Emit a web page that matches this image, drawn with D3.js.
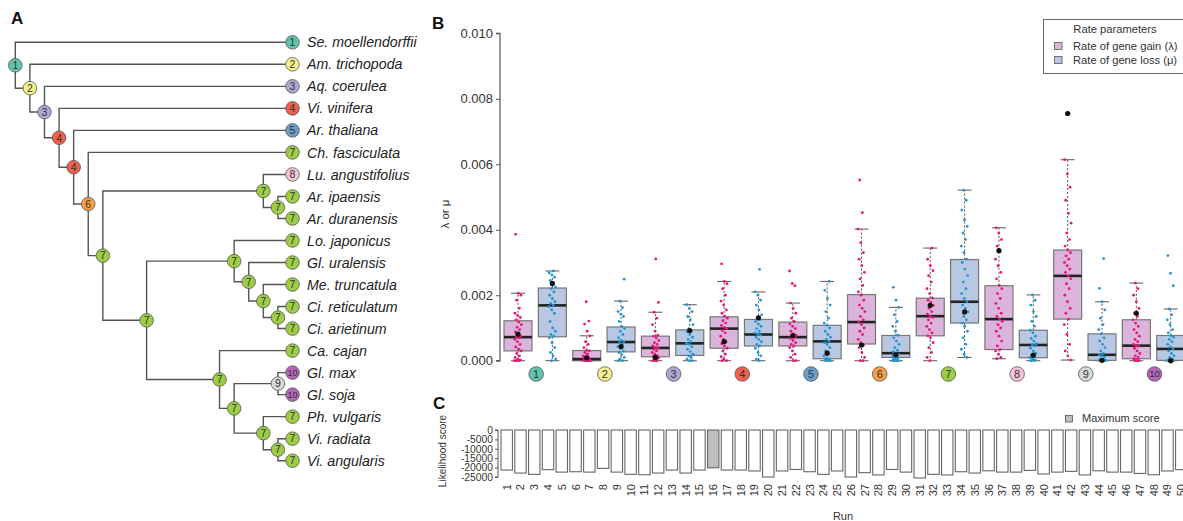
<!DOCTYPE html>
<html><head><meta charset="utf-8">
<script src="https://cdn.jsdelivr.net/npm/d3@7"></script>
<style>
body{margin:0;background:#fff;}
svg{display:block;font-family:"Liberation Sans",Arial,sans-serif;}
</style></head>
<body>
<svg id="fig" width="1183" height="521"></svg>
<script>
// ---------------- DATA ----------------
// Panel A: tree (x = node depth level, s = rate category, n = tip name)
const T = (n,s) => ({n, s});
const N = (s,x,c) => ({s, x, c});
const luAr = N(7,17,[T("Lu. angustifolius",8), N(7,18,[T("Ar. ipaensis",7), T("Ar. duranensis",7)])]);
const loClade = N(7,15,[T("Lo. japonicus",7), N(7,16,[T("Gl. uralensis",7), N(7,17,[T("Me. truncatula",7), N(7,18,[T("Ci. reticulatum",7), T("Ci. arietinum",7)])])])]);
const caClade = N(7,14,[T("Ca. cajan",7), N(7,15,[N(9,18,[T("Gl. max",10), T("Gl. soja",10)]), N(7,17,[T("Ph. vulgaris",7), N(7,18,[T("Vi. radiata",7), T("Vi. angularis",7)])])])]);
const tree = N(1,0,[T("Se. moellendorffii",1), N(2,1,[T("Am. trichopoda",2), N(3,2,[T("Aq. coerulea",3), N(4,3,[T("Vi. vinifera",4), N(4,4,[T("Ar. thaliana",5), N(6,5,[T("Ch. fasciculata",7), N(7,6,[luAr, N(7,9,[loClade, caClade])])])])])])])]);
const tipLevel = 19;

const categories = [1,2,3,4,5,6,7,8,9,10];
const categoryColors = ["#5fc3ad","#f4f08e","#b0a8d4","#f0604f","#6a9fca","#f5a046","#9ccd45","#f5c4d8","#d9d9d9","#b266b8"];

// Panel B: box statistics (units of 1e-3): [lower whisker, Q1, median, Q3, upper whisker]
const gainStats = [
  [0,0.30,0.72,1.22,2.06],[0,0,0.05,0.31,0.76],[0,0.12,0.39,0.75,1.48],[0,0.38,0.98,1.34,2.42],[0,0.45,0.72,1.18,1.76],
  [0,0.51,1.18,2.02,4.02],[0,0.76,1.36,1.91,3.44],[0.06,0.34,1.27,2.29,4.06],[0.02,1.27,2.59,3.38,6.14],[0,0.06,0.46,1.25,2.37]];
const lossStats = [
  [0,0.73,1.69,2.22,2.74],[0,0.27,0.57,1.03,1.82],[0,0.16,0.53,0.94,1.71],[0,0.45,0.80,1.26,2.10],[0,0.06,0.59,1.08,2.42],
  [0,0.10,0.23,0.77,1.63],[0.10,1.15,1.80,3.09,5.21],[0,0.09,0.48,0.93,2.01],[0,0.01,0.18,0.82,1.80],[0,0.01,0.36,0.77,1.58]];
// estimates from the maximum-score run (black dots), units of 1e-3
const gainBest = [0.81,0.09,0.10,0.58,0.77,0.48,1.69,3.36,7.55,1.45];
const lossBest = [2.36,0.43,0.92,1.31,0.23,0.18,1.49,0.17,0.01,0.00];
// per-run estimates (units of 1e-3)
const gainRuns = [
  [0,0,0,0.02,0.05,0.1,0.15,0.22,0.3,0.35,0.42,0.5,0.58,0.65,0.7,0.72,0.75,0.8,0.88,0.95,1.02,1.1,1.18,1.25,1.32,1.38,1.45,1.6,1.85,2.0,2.06,3.86],
  [0,0,0,0,0,0,0,0.01,0.02,0.03,0.05,0.06,0.08,0.1,0.12,0.15,0.2,0.25,0.3,0.32,0.4,0.5,0.58,0.76,0.9,1.12,1.21,1.8],
  [0,0,0,0.05,0.08,0.1,0.12,0.15,0.2,0.25,0.3,0.35,0.38,0.4,0.45,0.5,0.55,0.62,0.7,0.75,0.78,0.9,1.1,1.3,1.48,1.78,3.11],
  [0,0,0.05,0.12,0.2,0.3,0.38,0.45,0.52,0.58,0.65,0.75,0.85,0.92,0.98,1.02,1.08,1.15,1.22,1.3,1.36,1.45,1.55,1.7,1.82,2.0,2.2,2.35,2.42,2.96],
  [0,0,0.1,0.2,0.3,0.4,0.45,0.5,0.55,0.62,0.68,0.72,0.75,0.77,0.82,0.9,0.98,1.05,1.12,1.2,1.3,1.45,1.6,1.76,2.29,2.36,2.74],
  [0,0,0.1,0.25,0.4,0.48,0.55,0.65,0.8,0.9,1.0,1.1,1.18,1.25,1.35,1.5,1.6,1.7,1.85,2.0,2.1,2.3,2.5,2.7,2.9,3.1,3.3,3.6,4.02,4.52,5.52],
  [0,0.1,0.25,0.4,0.55,0.7,0.76,0.85,0.95,1.05,1.15,1.25,1.32,1.36,1.42,1.5,1.6,1.69,1.78,1.85,1.92,2.05,2.2,2.4,2.6,2.75,2.9,3.1,3.44],
  [0.06,0.1,0.2,0.3,0.34,0.45,0.6,0.75,0.9,1.0,1.1,1.2,1.27,1.35,1.45,1.6,1.75,1.9,2.05,2.2,2.3,2.5,2.7,2.9,3.1,3.36,3.5,3.7,3.9,4.06],
  [0.02,0.15,0.3,0.5,0.8,1.1,1.27,1.45,1.6,1.8,2.0,2.2,2.35,2.5,2.59,2.7,2.8,2.9,3.0,3.1,3.2,3.3,3.38,3.5,3.7,3.9,4.2,4.5,4.9,5.3,5.7,6.14,7.55],
  [0,0,0,0.02,0.06,0.1,0.15,0.22,0.3,0.38,0.44,0.46,0.5,0.58,0.65,0.75,0.85,0.95,1.05,1.15,1.25,1.35,1.45,1.6,1.8,2.0,2.2,2.37]];
const lossRuns = [
  [0,0.05,0.15,0.25,0.4,0.55,0.7,0.75,0.8,0.9,1.0,1.2,1.45,1.55,1.65,1.7,1.75,1.8,1.9,2.0,2.1,2.2,2.25,2.35,2.45,2.55,2.62,2.68,2.74],
  [0,0,0.05,0.1,0.18,0.25,0.3,0.38,0.43,0.5,0.55,0.58,0.62,0.7,0.8,0.9,0.98,1.05,1.2,1.35,1.42,1.5,1.62,1.82,2.49],
  [0,0,0.05,0.1,0.15,0.2,0.28,0.35,0.42,0.5,0.53,0.58,0.65,0.72,0.8,0.88,0.92,0.98,1.1,1.25,1.35,1.5,1.6,1.71],
  [0,0.05,0.15,0.25,0.38,0.45,0.5,0.58,0.65,0.72,0.78,0.8,0.85,0.9,0.98,1.05,1.12,1.2,1.26,1.31,1.4,1.55,1.7,1.85,2.0,2.1,2.79],
  [0,0,0,0.02,0.05,0.08,0.15,0.23,0.3,0.4,0.5,0.55,0.6,0.65,0.72,0.8,0.9,1.0,1.08,1.15,1.3,1.5,1.7,1.9,2.15,2.42],
  [0,0,0,0,0.02,0.05,0.08,0.1,0.12,0.15,0.18,0.2,0.23,0.28,0.32,0.4,0.5,0.6,0.7,0.78,0.9,1.05,1.2,1.4,1.63,1.85,2.24],
  [0.1,0.2,0.35,0.5,0.7,0.9,1.05,1.15,1.25,1.35,1.49,1.6,1.7,1.8,1.9,2.05,2.2,2.4,2.6,2.8,3.0,3.1,3.3,3.5,3.7,3.9,4.1,4.3,4.6,4.9,5.21],
  [0,0,0.02,0.05,0.09,0.12,0.17,0.22,0.3,0.38,0.45,0.48,0.52,0.6,0.68,0.75,0.85,0.93,1.05,1.2,1.35,1.5,1.7,1.85,2.01],
  [0,0,0,0,0,0.01,0.01,0.03,0.05,0.1,0.15,0.18,0.22,0.3,0.4,0.5,0.6,0.7,0.82,0.95,1.1,1.3,1.55,1.8,2.21,3.12],
  [0,0,0,0,0.01,0.02,0.05,0.1,0.15,0.22,0.3,0.36,0.42,0.5,0.58,0.65,0.72,0.77,0.85,0.95,1.1,1.25,1.4,1.58,2.29,2.67,3.21]];
const bTicks = [0,2,4,6,8,10];

// Panel C: likelihood score per run
const runs = d3.range(1,51);
const scores = [-21300,-22900,-23600,-21100,-22400,-22200,-22400,-20400,-22400,-23600,
  -23800,-22900,-21300,-22900,-21300,-20100,-21300,-21300,-21800,-25000,
  -21800,-21000,-22200,-23600,-21800,-25000,-22700,-23900,-21000,-22400,
  -25500,-23600,-23900,-22200,-22900,-21700,-22400,-22400,-21500,-23400,
  -22400,-22000,-23900,-21700,-22400,-22400,-23100,-23800,-21800,-21100];
const bestRun = 16;
const cTicks = [0,-5000,-10000,-15000,-20000,-25000];

// ---------------- DRAW ----------------
const svg = d3.select("#fig");
const txt = "#333";

// ---- Panel A ----
svg.append("text").attr("x",11).attr("y",24).attr("font-size",17).attr("font-weight","bold").attr("fill","#111").text("A");
const root = d3.hierarchy(tree, d => d.c);
const leaves = root.leaves();
const yTip = d3.scaleLinear().domain([0, leaves.length-1]).range([42.3, 460.7]);
const xLev = d3.scaleLinear().domain([0, tipLevel]).range([15.3, 292.5]);
leaves.forEach((l,i)=>{ l.py = yTip(i); l.lev = tipLevel; });
root.eachAfter(n => { if(n.children){ n.py = d3.mean(n.children, c=>c.py); n.lev = n.data.x; } });
const gA = svg.append("g");
root.descendants().forEach(n=>{
  if(!n.children) return;
  n.children.forEach(c=>{
    gA.append("path").attr("d",`M${xLev(n.lev)},${n.py}V${c.py}H${xLev(c.lev)}`)
      .attr("fill","none").attr("stroke","#555").attr("stroke-width",1.4);
  });
});
root.descendants().forEach(n=>{
  const g = gA.append("g").attr("transform",`translate(${xLev(n.lev)},${n.py})`);
  g.append("circle").attr("r",6.8).attr("fill",categoryColors[n.data.s-1]).attr("stroke","#555").attr("stroke-width",0.8);
  g.append("text").attr("text-anchor","middle").attr("dy","0.36em").attr("font-size",n.data.s>=10?9:10.5).attr("fill","#333").text(n.data.s);
  if(!n.children){
    gA.append("text").attr("x",xLev(n.lev)+14.5).attr("y",n.py).attr("dy","0.36em").attr("font-size",14.2).attr("font-style","italic").attr("fill","#222").text(n.data.n);
  }
});

// ---- Panel B ----
svg.append("text").attr("x",432).attr("y",29).attr("font-size",17).attr("font-weight","bold").attr("fill","#111").text("B");
const yB = d3.scaleLinear().domain([0,10]).range([360.7,33.3]);
const xB = d3.scaleLinear().domain([0,19]).range([518,1170.7]);
const gB = svg.append("g");
const axB = gB.append("g").attr("transform","translate(500,0)")
  .call(d3.axisLeft(yB).tickValues(bTicks).tickSize(4).tickPadding(3).tickFormat(d=>(d/1000).toFixed(3)));
axB.select(".domain").attr("stroke","#555").attr("stroke-width",1.2).attr("d",`M-4,${yB(10)}H0V${yB(0)}H-4`);
axB.selectAll(".tick line").attr("stroke","#555");
axB.selectAll(".tick text").attr("font-size",13).attr("fill",txt).attr("font-family","Liberation Sans, Arial, sans-serif");
gB.append("text").attr("transform",`translate(449,214) rotate(-90)`).attr("text-anchor","middle").attr("font-size",11.5).attr("fill",txt).text("λ or μ");

const boxW = 28;
function drawBox(k, st, fill, pts, ptColor, best){
  const cx = xB(k);
  const [lo,q1,md,q3,hi] = st;
  const g = gB.append("g");
  g.append("line").attr("x1",cx).attr("x2",cx).attr("y1",yB(q3)).attr("y2",yB(hi)).attr("stroke","#555").attr("stroke-dasharray","2,2");
  g.append("line").attr("x1",cx).attr("x2",cx).attr("y1",yB(q1)).attr("y2",yB(lo)).attr("stroke","#555").attr("stroke-dasharray","2,2");
  [lo,hi].forEach(v=>g.append("line").attr("x1",cx-boxW/4).attr("x2",cx+boxW/4).attr("y1",yB(v)).attr("y2",yB(v)).attr("stroke","#666").attr("stroke-width",1.1));
  g.append("rect").attr("x",cx-boxW/2).attr("width",boxW).attr("y",yB(q3)).attr("height",Math.max(0.5,yB(q1)-yB(q3)))
    .attr("fill",fill).attr("stroke","#777").attr("stroke-width",1.2);
  g.append("line").attr("x1",cx-boxW/2).attr("x2",cx+boxW/2).attr("y1",yB(md)).attr("y2",yB(md)).attr("stroke","#222").attr("stroke-width",2.6);
  pts.forEach((v,i)=>{
    const jit = (((i*0.6180339)+k*0.37)%1 - 0.5)*7;
    g.append("circle").attr("cx",cx+jit).attr("cy",yB(v)).attr("r",1.4).attr("fill",ptColor);
  });
  g.append("circle").attr("cx",cx).attr("cy",yB(best)).attr("r",2.6).attr("fill","#111");
}
categories.forEach((c,i)=>{
  drawBox(2*i, gainStats[i], "#dab4da", gainRuns[i], "#e8157a", gainBest[i]);
  drawBox(2*i+1, lossStats[i], "#b8c7e2", lossRuns[i], "#1f97d4", lossBest[i]);
  const cx = (xB(2*i)+xB(2*i+1))/2 + 1;
  const g = gB.append("g").attr("transform",`translate(${cx},374)`);
  g.append("circle").attr("r",7.3).attr("fill",categoryColors[i]).attr("stroke","#555").attr("stroke-width",0.8);
  g.append("text").attr("text-anchor","middle").attr("dy","0.36em").attr("font-size",c>=10?9.5:11).attr("fill","#333").text(c);
});
// legend B
const lg = gB.append("g");
lg.append("rect").attr("x",1043.5).attr("y",19.5).attr("width",160).attr("height",54).attr("fill","#fff").attr("stroke","#666");
lg.append("text").attr("x",1115).attr("y",33).attr("text-anchor","middle").attr("font-size",11.2).attr("fill",txt).text("Rate parameters");
[["#dab4da","Rate of gene gain (λ)"],["#b8c7e2","Rate of gene loss (μ)"]].forEach((d,i)=>{
  lg.append("rect").attr("x",1054.5).attr("y",42.5+i*14).attr("width",7.5).attr("height",7).attr("fill",d[0]).attr("stroke","#555").attr("stroke-width",0.8);
  lg.append("text").attr("x",1073).attr("y",50+i*14).attr("font-size",11.2).attr("fill",txt).text(d[1]);
});

// ---- Panel C ----
svg.append("text").attr("x",433).attr("y",409).attr("font-size",17).attr("font-weight","bold").attr("fill","#111").text("C");
const yC = d3.scaleLinear().domain([0,-25000]).range([430,477]);
const xC = d3.scaleBand().domain(runs).range([501,1187]).paddingInner(0.17);
const gC = svg.append("g");
gC.selectAll("rect.bar").data(runs).join("rect").attr("class","bar")
  .attr("x",r=>xC(r)).attr("width",xC.bandwidth())
  .attr("y",yC(0)).attr("height",(r,i)=>yC(scores[i])-yC(0))
  .attr("fill",r=>r===bestRun?"#bdbdbd":"#fff").attr("stroke","#666").attr("stroke-width",1.1);
const axC = gC.append("g").attr("transform","translate(498,0)")
  .call(d3.axisLeft(yC).tickValues(cTicks).tickSize(3).tickPadding(2).tickFormat(d=>d===0?"0":"-"+Math.abs(d)));
axC.select(".domain").attr("stroke","#555").attr("d",`M-3,${yC(0)}H0V${yC(-25000)}H-3`);
axC.selectAll(".tick line").attr("stroke","#555");
axC.selectAll(".tick text").attr("font-size",10.3).attr("fill",txt).attr("font-family","Liberation Sans, Arial, sans-serif");
gC.append("text").attr("transform","translate(446,451) rotate(-90)").attr("text-anchor","middle").attr("font-size",10).attr("fill",txt).text("Likelihood score");
gC.selectAll("text.run").data(runs).join("text").attr("class","run")
  .attr("transform",r=>`translate(${xC(r)+xC.bandwidth()/2},484) rotate(-90)`)
  .attr("text-anchor","end").attr("dy","0.36em").attr("font-size",11).attr("fill",txt).text(r=>r);
gC.append("text").attr("x",843).attr("y",520).attr("text-anchor","middle").attr("font-size",11).attr("fill",txt).text("Run");
gC.append("rect").attr("x",1065.5).attr("y",415.5).attr("width",7).attr("height",6.5).attr("fill","#bdbdbd").attr("stroke","#555").attr("stroke-width",0.8);
gC.append("text").attr("x",1082).attr("y",422).attr("font-size",11).attr("fill",txt).text("Maximum score");
</script>
</body></html>
